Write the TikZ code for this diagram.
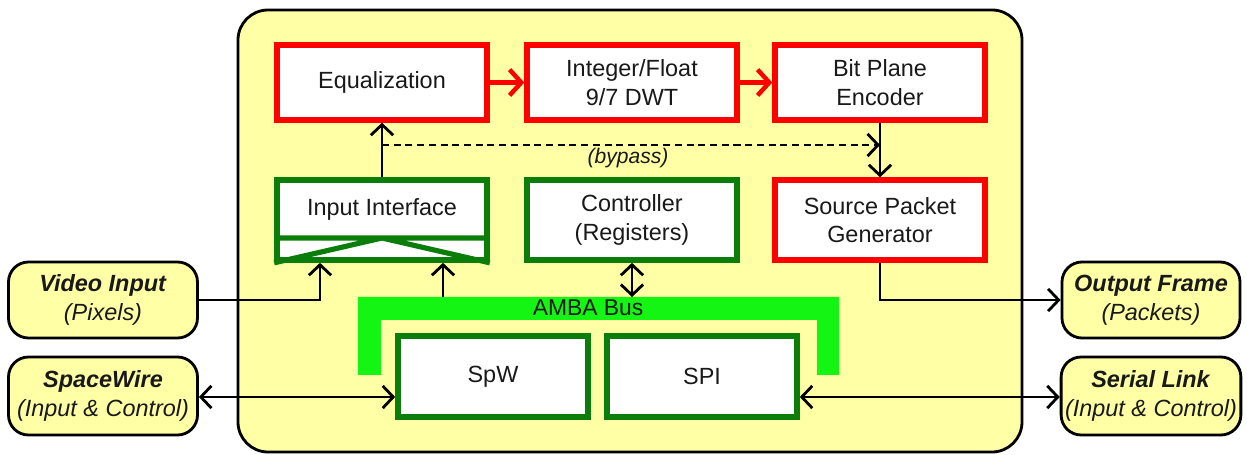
\documentclass[tikz,border=0pt]{standalone}
\usepackage{fontspec}
\setmainfont{Liberation Sans}
\usetikzlibrary{arrows.meta,calc}

\definecolor{paleyellow}{RGB}{255,255,165}
\definecolor{boxred}{RGB}{255,0,0}
\definecolor{darkgreen}{RGB}{10,125,10}
\definecolor{busgreen}{RGB}{20,245,20}
\definecolor{txt}{RGB}{25,25,25}

\tikzset{
  redbox/.style={draw=boxred, line width=4.6pt, fill=white, minimum width=6.3cm,
    minimum height=2.25cm, align=center, font=\fontsize{20}{24.5}\selectfont, text=txt},
  greenbox/.style={draw=darkgreen, line width=4.8pt, fill=white, minimum width=6.3cm,
    minimum height=2.4cm, align=center, font=\fontsize{20}{24.5}\selectfont, text=txt},
  iobox/.style={draw=darkgreen, line width=4.8pt, fill=white, minimum width=5.7cm,
    minimum height=2.43cm, font=\fontsize{20}{24}\selectfont, text=txt},
  extbox/.style={draw=black, line width=2.4pt, fill=paleyellow, rounded corners=0.6cm,
    minimum width=5.67cm, minimum height=2.28cm, align=center,
    font=\fontsize{20}{24.5}\selectfont, text=txt},
  conn/.style={draw=black, line width=2.4pt,
    arrows={-Straight Barb[length=9pt,width=19pt,line width=2.4pt]}},
  biconn/.style={draw=black, line width=2.4pt,
    arrows={Straight Barb[length=9pt,width=19pt,line width=2.4pt]-Straight Barb[length=9pt,width=19pt,line width=2.4pt]}},
  redconn/.style={draw=boxred, line width=3.8pt,
    arrows={-Straight Barb[length=10pt,width=22pt,line width=3.8pt]}},
}

\begin{document}
\begin{tikzpicture}[x=0.03cm,y=-0.03cm]
\useasboundingbox (0,0) rectangle (1247,455);

% core enclosure
\draw[line width=2.4pt, fill=paleyellow, rounded corners=0.9cm] (238,10) rectangle (1022,452);

% AMBA bus bracket
\fill[busgreen] (358,297) -- (839,297) -- (839,375) -- (817,375) -- (817,320)
  -- (381,320) -- (381,375) -- (358,375) -- cycle;
\node[font=\fontsize{19.5}{22}\selectfont, text=txt] (bus) at (588,308) {AMBA Bus};

% processing chain
\node[redbox] (eq)  at (382,82.5) {Equalization};
\node[redbox] (dwt) at (632,82.5) {Integer/Float\\9/7 DWT};
\node[redbox] (bpe) at (880,82.5) {Bit Plane\\Encoder};

% interface row
\node[greenbox] (ii)   at (382,220) {};
\node[font=\fontsize{20}{24}\selectfont, text=txt] (iiLabel) at (382,209) {Input Interface};
\node[greenbox] (ctrl) at (632,220) {Controller\\(Registers)};
\node[redbox, minimum height=2.4cm] (spg) at (880,220) {Source Packet\\Generator};

% double input strip of the input interface
\draw[darkgreen, line width=4.4pt, line join=miter]
  (ii.west |- 0,238) -- (ii.east |- 0,238)
  (ii.south west) -- (382,238) -- (ii.south east);

% bus peripherals
\node[iobox] (spw) at (493,376.5) {SpW};
\node[iobox] (spi) at (702,376.5) {SPI};

% external ports
\node[extbox] (vin) at (103,300) {\textbf{\textit{Video Input}}\\\textit{(Pixels)}};
\node[extbox, minimum height=2.34cm] (spc) at (103,396) {\textbf{\textit{SpaceWire}}\\\textit{(Input \& Control)}};
\node[extbox, minimum width=5.34cm] (out) at (1151,300) {\textbf{\textit{Output Frame}}\\\textit{(Packets)}};
\node[extbox, minimum width=5.34cm, minimum height=2.34cm] (ser) at (1151,396) {\textbf{\textit{Serial Link}}\\\textit{(Input \& Control)}};

% helper points
\coordinate (bpy) at (0,145);
\coordinate (busTop) at (0,297);
\coordinate (viaA) at (320,0);
\coordinate (viaB) at (443,0);

% data path
\path[redconn] (eq.east) -- (dwt.west);
\path[redconn] (dwt.east) -- (bpe.west);
\path[conn] (ii.north) -- (eq.south);
\path[conn] (bpe.south) -- (spg.north);
\path[conn, dash pattern=on 6pt off 4pt] (ii.north |- bpy) -- (bpe.south |- bpy);
\node[font=\fontsize{18}{20}\selectfont\itshape, text=txt] (bypass) at (628,158) {(bypass)};

% inputs and outputs
\path[conn] (vin.east) -| (viaA |- ii.south);
\path[conn] (viaB |- busTop) -- (viaB |- ii.south);
\path[biconn] (ctrl.south) -- (ctrl.south |- busTop);
\path[conn] (spg.south) |- (out.west);
\path[biconn] (spc.east |- 0,397) -- (spw.west |- 0,397);
\path[biconn] (spi.east |- 0,397) -- (ser.west |- 0,397);
\end{tikzpicture}
\end{document}
